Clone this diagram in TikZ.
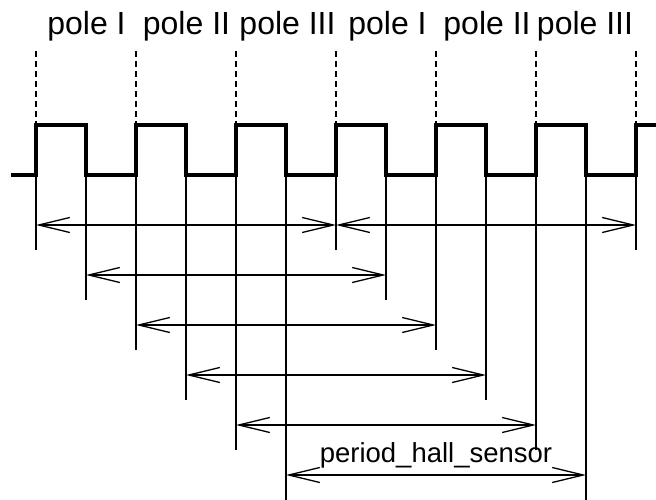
\documentclass[tikz,border=0pt]{standalone}
\usepackage{fontspec}
\setmainfont{Liberation Sans}
\usetikzlibrary{arrows.meta}
\begin{document}
\begin{tikzpicture}[x=1pt,y=-1pt,
  wave/.style={line width=4pt,line join=miter,line cap=butt},
  thin/.style={line width=1.3pt},
  guide/.style={line width=1.3pt,dash pattern=on 6pt off 4pt},
  dim/.style={line width=1.3pt,{Straight Barb[length=31pt,width=15pt]}-{Straight Barb[length=31pt,width=15pt]}},
  pole/.style={anchor=base,inner sep=0pt,font=\fontsize{32}{38}\selectfont},
  per/.style={anchor=base,inner sep=0pt,font=\fontsize{27.5}{33}\selectfont}]
\useasboundingbox (0,0) rectangle (656,500);
\fill[white] (0,0) rectangle (656,500);
% pole labels
\node[pole] (p1) at (86.5,35) {pole I};
\node[pole] (p2) at (186.5,35) {pole II};
\node[pole] (p3) at (287.5,35) {pole III};
\node[pole] (p4) at (387.5,35) {pole I};
\node[pole] (p5) at (487,35) {pole II};
\node[pole] (p6) at (585,35) {pole III};
% dashed guides at rising edges
\foreach \j in {0,...,6}{
  \coordinate (g\j) at (36+100*\j,51);
  \coordinate (r\j) at (36+100*\j,125);
  \draw[guide] (g\j) -- (r\j);
}
% edge coordinates on low level
\foreach \i in {0,...,12}{
  \coordinate (e\i) at (36+50*\i,175);
}
% thin verticals
\foreach \i in {0,...,5}{
  \coordinate (b\i) at (36+50*\i,250+50*\i);
  \draw[thin] (e\i) -- (b\i);
}
\foreach \i in {6,...,11}{
  \coordinate (b\i) at (36+50*\i,250+50*\i-300);
  \draw[thin] (e\i) -- (b\i);
}
\coordinate (b12) at (636,250);
\draw[thin] (e12) -- (b12);
% square wave
\coordinate (ws) at (11,175);
\coordinate (we) at (656,125);
\draw[wave] (ws)
  \foreach \j in {0,...,5}{ -- (36+100*\j,175) -- (36+100*\j,125) -- (86+100*\j,125) -- (86+100*\j,175)}
  -- (636,175) -- (636,125) -- (we);
% dimension arrows
\foreach \k in {1,...,6}{
  \coordinate (l\k) at (36+50*\k-50,225+50*\k-50);
  \coordinate (m\k) at (336+50*\k-50,225+50*\k-50);
  \draw[dim] (l\k) -- (m\k);
}
\coordinate (n1) at (636,225);
\draw[dim] (m1) -- (n1);
\node[per] (lbl) at (436,462) {period\_hall\_sensor};
\end{tikzpicture}
\end{document}
